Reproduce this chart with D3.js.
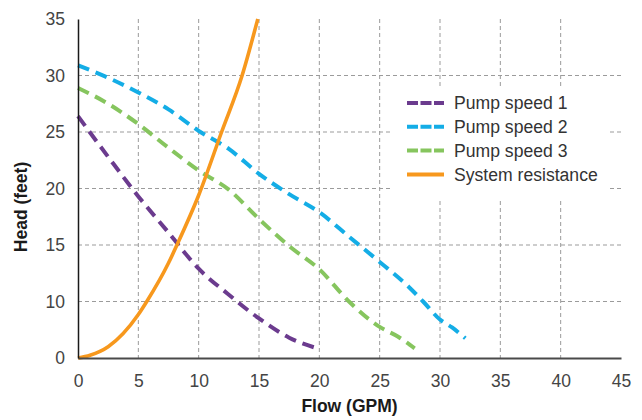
<!DOCTYPE html>
<html>
<head>
<meta charset="utf-8">
<script src="https://cdn.jsdelivr.net/npm/d3@7"></script>
<style>
  html, body { margin: 0; padding: 0; background: #fff; }
  svg text { font-family: "Liberation Sans", Arial, Helvetica, sans-serif; }
</style>
</head>
<body>
<svg id="chart" width="642" height="420"></svg>
<script>
// Flow in GPM, head in feet
const xTicks = [0, 5, 10, 15, 20, 25, 30, 35, 40, 45];
const yTicks = [0, 10, 15, 20, 25, 30, 35];

const speed1Flow = [0, 2.5, 5, 7.5, 10, 12.5, 15, 17.5, 20];
const speed1Head = [26.4, 22.8, 19.3, 16.1, 12.9, 10.6, 7.0, 3.6, 1.6];

const speed2Flow = [0, 2.5, 5, 7.5, 10, 12.5, 15, 17.5, 20, 22.5, 25, 27.5, 28.6, 30, 31, 32.1];
const speed2Head = [30.9, 29.8, 28.5, 27.0, 25.1, 23.5, 21.3, 19.5, 17.9, 15.7, 13.5, 11.2, 10, 6.8, 5.4, 3.5];

const speed3Flow = [0, 2.5, 5, 7.5, 10, 12.5, 15, 17.5, 20, 22.5, 25, 26.5, 27.9];
const speed3Head = [28.9, 27.5, 25.7, 23.6, 21.6, 19.9, 17.3, 14.9, 12.85, 9.9, 5.5, 3.8, 1.7];

const systemFlow = [0, 1, 2.5, 5, 5.7, 7.5, 8.2, 10, 11.9, 13.6, 14.9];
const systemHead = [0, 0.5, 2.0, 7.7, 10, 13.4, 15, 19.4, 25, 30, 35];

const seriesNames = ["Pump speed 1", "Pump speed 2", "Pump speed 3", "System resistance"];
const seriesColors = ["#6b3b8e", "#14ade6", "#86c55e", "#f7981d"];
const seriesDashed = [true, true, true, false];

const series = [
  { flow: speed1Flow, head: speed1Head },
  { flow: speed2Flow, head: speed2Head },
  { flow: speed3Flow, head: speed3Head },
  { flow: systemFlow, head: systemHead }
].map((s, i) => ({
  name: seriesNames[i], color: seriesColors[i], dashed: seriesDashed[i],
  points: s.flow.map((f, j) => [f, s.head[j]])
}));

const svg = d3.select("#chart");
const plotLeft = 78, plotRight = 621, plotTop = 19, plotBottom = 358;

const x = d3.scaleLinear().domain([0, 45]).range([plotLeft, plotRight]);
// The head axis places its labelled ticks at equal spacing
const y = d3.scaleLinear()
  .domain(yTicks)
  .range(yTicks.map((d, i) => plotBottom - (plotBottom - plotTop) * i / (yTicks.length - 1)));

// Grid
const grid = svg.append("g").attr("stroke", "#9b9b9b").attr("stroke-width", 1)
  .attr("stroke-dasharray", "4,3").attr("fill", "none");
grid.selectAll("line.v").data(xTicks.filter(d => d > 0 && d < 45)).join("line")
  .attr("class", "v")
  .attr("x1", d => x(d)).attr("x2", d => x(d))
  .attr("y1", plotTop).attr("y2", plotBottom);
grid.selectAll("line.h").data(yTicks.filter(d => d > 0 && d < 35)).join("line")
  .attr("class", "h")
  .attr("x1", plotLeft).attr("x2", plotRight)
  .attr("y1", d => y(d)).attr("y2", d => y(d));

// Curves
const line = d3.line().x(d => x(d[0])).y(d => y(d[1])).curve(d3.curveMonotoneX);
svg.append("g").selectAll("path").data(series).join("path")
  .attr("d", d => line(d.points))
  .attr("fill", "none")
  .attr("stroke", d => d.color)
  .attr("stroke-width", d => d.dashed ? 4 : 3.6)
  .attr("stroke-dasharray", d => d.dashed ? "12,7" : null);

// Axes
const xAxis = d3.axisBottom(x).tickValues(xTicks).tickSize(0).tickPadding(17);
const gx = svg.append("g").attr("transform", `translate(0,${plotBottom})`).call(xAxis);
gx.select(".domain").attr("stroke", "#4a4a4a").attr("stroke-width", 2);
gx.selectAll("text").attr("font-size", 17.5).attr("fill", "#444")
  .attr("font-family", "Liberation Sans, Arial, sans-serif");

const yAxis = d3.axisLeft(y).tickValues(yTicks).tickSize(0).tickPadding(13);
const gy = svg.append("g").attr("transform", `translate(${plotLeft},0)`).call(yAxis);
gy.select(".domain").attr("stroke", "#1a1a1a").attr("stroke-width", 1.5);
gy.selectAll("text").attr("font-size", 17.5).attr("fill", "#444")
  .attr("font-family", "Liberation Sans, Arial, sans-serif");

// Axis titles
svg.append("text").attr("x", (plotLeft + plotRight) / 2).attr("y", 412)
  .attr("text-anchor", "middle").attr("font-size", 17.5).attr("font-weight", "bold")
  .attr("fill", "#1a1a1a").text("Flow (GPM)");
svg.append("text").attr("transform", "translate(27,207) rotate(-90)")
  .attr("text-anchor", "middle").attr("font-size", 17.5).attr("font-weight", "bold")
  .attr("fill", "#1a1a1a").text("Head (feet)");

// Legend
const legend = svg.append("g");
legend.append("rect").attr("x", 393).attr("y", 87).attr("width", 215).attr("height", 112)
  .attr("fill", "#fff");
const rows = legend.selectAll("g.row").data(series).join("g")
  .attr("class", "row")
  .attr("transform", (d, i) => `translate(407,${103 + i * 23.8})`);
rows.append("line").attr("x1", 0).attr("x2", 37).attr("y1", 0).attr("y2", 0)
  .attr("stroke", d => d.color).attr("stroke-width", 4)
  .attr("stroke-dasharray", d => d.dashed ? "11,2.5" : null);
rows.append("text").attr("x", 47).attr("y", 6.3).attr("font-size", 17.6)
  .attr("fill", "#333").text(d => d.name);
</script>
</body>
</html>
